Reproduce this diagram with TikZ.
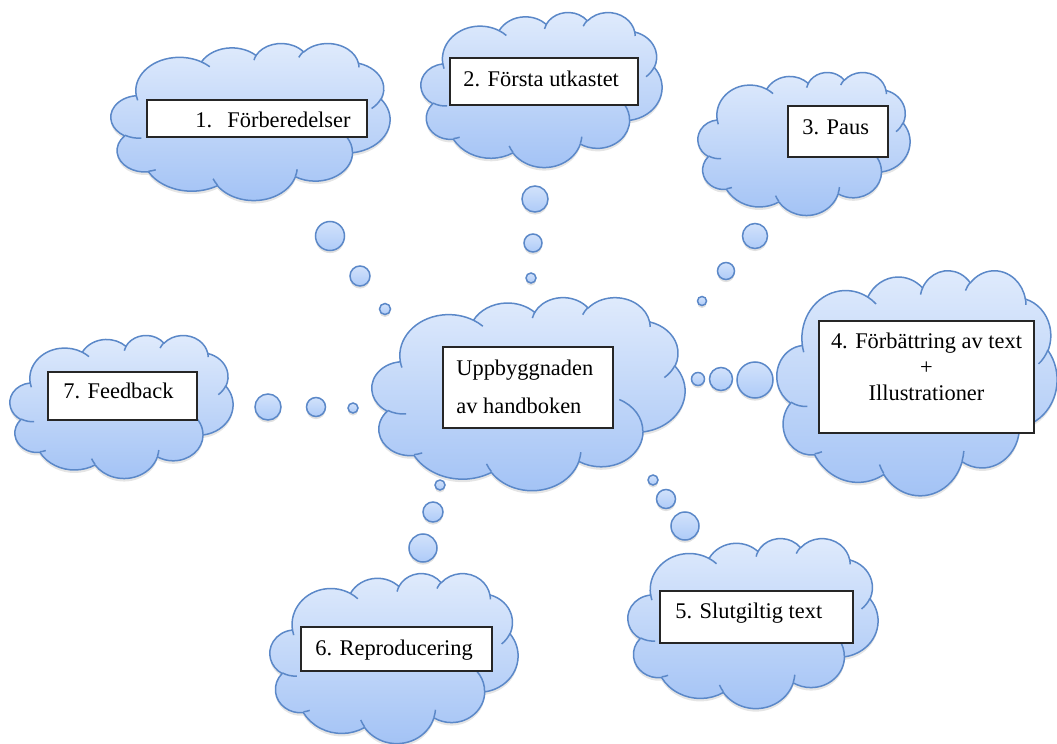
\documentclass[tikz,border=0pt]{standalone}
\usepackage{fontspec}
\setmainfont{Liberation Serif}
\newfontfamily\timesfont{Liberation Serif}
\definecolor{cloudline}{HTML}{5B88C8}
\definecolor{cloudtop}{HTML}{E0EBFC}
\definecolor{cloudbot}{HTML}{A2C2F5}
\definecolor{bubtop}{HTML}{D2E2FB}
\definecolor{bubbot}{HTML}{AECBF8}
\newcommand\wcshape{(3.9,14.37)
 arc[start angle=-187.745, end angle=-59.63, x radius=6.753, y radius=9.19]
 arc[start angle=-152.02, end angle=-45.46, x radius=5.333, y radius=7.267]
 arc[start angle=-153.49, end angle=-37.33, x radius=4.365, y radius=5.945]
 arc[start angle=-139.70, end angle=-10.21, x radius=4.857, y radius=6.595]
 arc[start angle=-74.77, end angle=23.21, x radius=5.333, y radius=7.273]
 arc[start angle=-37.53, end angle=81.86, x radius=6.775, y radius=9.22]
 arc[start angle=0.46, end angle=121.98, x radius=5.785, y radius=7.867]
 arc[start angle=16.84, end angle=146.22, x radius=6.752, y radius=9.215]
 arc[start angle=58.98, end angle=150.19, x radius=7.72, y radius=10.543]
 arc[start angle=83.31, end angle=223.10, x radius=4.36, y radius=5.918]
 arc[start angle=120.36, end angle=264.11, x radius=4.345, y radius=5.945]
 -- cycle}
\newcommand\wccreases{
 (4.693,26.177) arc[start angle=85.55, end angle=120.36, x radius=4.345, y radius=5.945]
 (6.928,34.899) arc[start angle=68.23, end angle=83.31, x radius=4.36, y radius=5.918]
 (16.478,39.09) arc[start angle=146.22, end angle=158.47, x radius=6.752, y radius=9.215]
 (28.827,34.751) arc[start angle=4.74, end angle=16.84, x radius=6.752, y radius=9.215]
 (34.129,22.954) arc[start angle=-64.03, end angle=0.46, x radius=5.785, y radius=7.867]
 (41.798,15.354) arc[start angle=23.21, end angle=49.65, x radius=5.333, y radius=7.273]
 (38.324,5.426) arc[start angle=-10.21, end angle=0.82, x radius=4.857, y radius=6.595]
 (29.078,3.952) arc[start angle=-156.29, end angle=-139.70, x radius=4.857, y radius=6.595]
 (22.141,4.72) arc[start angle=-167.73, end angle=-153.49, x radius=4.365, y radius=5.945]
 (14.0,5.192) arc[start angle=-59.63, end angle=-45.74, x radius=6.753, y radius=9.19]
 (4.127,15.789) arc[start angle=163.19, end angle=172.26, x radius=6.753, y radius=9.19]}
% \wcloud{left}{top}{width}{height} in pixels
\newcommand\wcloud[4]{%
 \pgfmathsetmacro\wcxu{#3*0.5/43.2}%
 \pgfmathsetmacro\wcyu{-#4*0.5/43.2}%
 \begin{scope}[shift={(#1,#2)}, x=\wcxu pt, y=\wcyu pt]
  \fill[black, opacity=0.10, shift={(0pt,-1.5pt)}] \wcshape;
  \shade[top color=cloudtop, bottom color=cloudbot] \wcshape;
  \draw[cloudstroke] \wcshape;
  \draw[cloudstroke] \wccreases;
 \end{scope}}
\tikzset{
 cloudstroke/.style={draw=cloudline, line width=0.75pt, line join=round},
 bubble/.style={circle, inner sep=0pt, draw=cloudline, line width=0.75pt,
   top color=bubtop, bottom color=bubbot,
   preaction={fill=black, opacity=0.12, transform canvas={yshift=-1.3pt}}},
 box/.style={rectangle, draw=black!85, line width=0.7pt, fill=white, inner sep=0pt},
 lbl/.style={inner sep=0pt, font=\timesfont\fontsize{11.2}{13}\selectfont},
}
\begin{document}
\begin{tikzpicture}[x=0.5pt, y=-0.5pt]
\useasboundingbox (0,0) rectangle (1057,744);
% clouds
\wcloud{111}{43}{279}{157}
\wcloud{421}{12}{241}{155}
\wcloud{698}{72}{212}{143}
\wcloud{777}{270}{280}{225}
\wcloud{10}{335}{223}{143}
\wcloud{372}{297}{313}{193}
\wcloud{270}{573}{248}{170}
\wcloud{628}{538}{250}{170}
% bubbles toward 1
\node[bubble, minimum size=14.5pt] (b1a) at (330,236) {};
\node[bubble, minimum size=10pt] (b1b) at (360,276) {};
\node[bubble, minimum size=5.5pt] (b1c) at (385,309) {};
% toward 2
\node[bubble, minimum size=13pt] (b2a) at (535,199) {};
\node[bubble, minimum size=9pt] (b2b) at (533,243) {};
\node[bubble, minimum size=5pt] (b2c) at (531,278) {};
% toward 3
\node[bubble, minimum size=12.5pt] (b3a) at (755,236) {};
\node[bubble, minimum size=8.5pt] (b3b) at (726,271) {};
\node[bubble, minimum size=4.5pt] (b3c) at (702,301) {};
% toward 4
\node[bubble, minimum size=6.5pt] (b4c) at (698,379) {};
\node[bubble, minimum size=11.5pt] (b4b) at (721,379) {};
\node[bubble, minimum size=18pt] (b4a) at (755,380) {};
% toward 5
\node[bubble, minimum size=5pt] (b5c) at (653,480) {};
\node[bubble, minimum size=9.5pt] (b5b) at (666,499) {};
\node[bubble, minimum size=14pt] (b5a) at (685,526) {};
% toward 6
\node[bubble, minimum size=5pt] (b6c) at (440,485) {};
\node[bubble, minimum size=10pt] (b6b) at (433,512) {};
\node[bubble, minimum size=14pt] (b6a) at (423,548) {};
% toward 7
\node[bubble, minimum size=13pt] (b7a) at (268,407) {};
\node[bubble, minimum size=9.5pt] (b7b) at (316,407) {};
\node[bubble, minimum size=5pt] (b7c) at (353,408) {};
% boxes
\node[box, minimum width=110pt, minimum height=18.5pt] (r1) at (257,118.5) {};
\node[box, minimum width=94pt, minimum height=23.5pt] (r2) at (544,81.5) {};
\node[box, minimum width=50pt, minimum height=25.5pt] (r3) at (838,131.5) {};
\node[box, minimum width=107.5pt, minimum height=56pt] (r4) at (926.5,377) {};
\node[box, minimum width=96.5pt, minimum height=26pt] (r5) at (756.5,617) {};
\node[box, minimum width=95.5pt, minimum height=22pt] (r6) at (396.5,649) {};
\node[box, minimum width=74.5pt, minimum height=24pt] (r7) at (122.5,396) {};
\node[box, minimum width=85pt, minimum height=40.5pt] (r0) at (528,387.5) {};
% texts
\node[lbl, anchor=base west] (t1) at (195,127) {\makebox[16pt][l]{1.}Förberedelser};
\node[lbl, anchor=base west] (t2) at (463,86) {2. Första utkastet};
\node[lbl, anchor=base west] (t3) at (802,134) {3. Paus};
\node[lbl, anchor=base] (t4a) at (926.5,348) {4. Förbättring av text};
\node[lbl, anchor=base] (t4b) at (926.5,374) {+};
\node[lbl, anchor=base] (t4c) at (926.5,400) {Illustrationer};
\node[lbl, anchor=base west] (t5) at (675,618) {5. Slutgiltig text};
\node[lbl, anchor=base west] (t6) at (315,655) {6. Reproducering};
\node[lbl, anchor=base west] (t7) at (63,398) {7. Feedback};
\node[lbl, anchor=base west] (t0a) at (456,375) {Uppbyggnaden};
\node[lbl, anchor=base west] (t0b) at (456,413) {av handboken};
\end{tikzpicture}
\end{document}
